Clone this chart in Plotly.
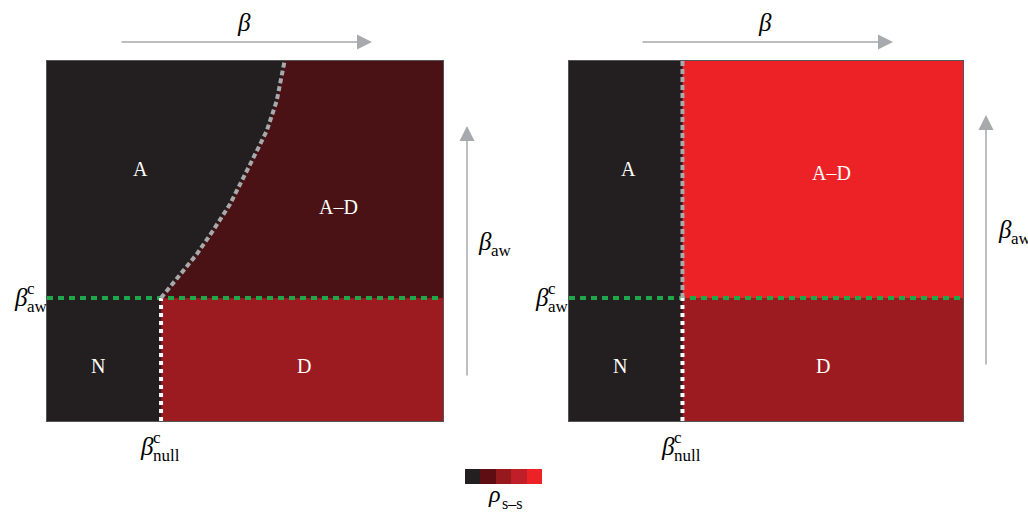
import plotly.graph_objects as go

W, H = 1028, 512

# ---- data ----
beta_null_c = 0.288
beta_aw_c = 0.342
boundary_beta = [0.288, 0.330, 0.378, 0.420, 0.462, 0.513, 0.555, 0.580, 0.597, 0.600]
boundary_beta_aw = [0.342, 0.400, 0.463, 0.530, 0.602, 0.713, 0.806, 0.889, 0.986, 1.0]

left_colors = {"A": "#231F20", "N": "#231F20", "A–D": "#4A1214", "D": "#9B1B20"}
right_colors = {"A": "#231F20", "N": "#231F20", "A–D": "#EC2227", "D": "#9B1B20"}
legend_colors = ["#231F20", "#5E0D12", "#96191E", "#C01F2A", "#EC2227"]

left_labels = [("A", 0.235, 0.70), ("A–D", 0.735, 0.595), ("N", 0.128, 0.153), ("D", 0.650, 0.153)]
right_labels = [("A", 0.150, 0.70), ("A–D", 0.665, 0.690), ("N", 0.130, 0.153), ("D", 0.645, 0.153)]

SERIF = "Liberation Serif, Times New Roman, DejaVu Serif, serif"
GRAY = "#A7A9AC"
GREEN = "#1FA84A"

def px(x):
    return x / W

def py(y):
    return 1 - y / H

fig = go.Figure()

dom_left_x = [px(47), px(443)]
dom_right_x = [px(569), px(963)]
dom_y = [py(421), py(61)]

def rect(x0, x1, y0, y1):
    return [x0, x1, x1, x0, x0], [y0, y0, y1, y1, y0]

def fill(xs, ys, color, xa, ya):
    fig.add_trace(go.Scatter(x=xs, y=ys, mode="lines", fill="toself", fillcolor=color,
                             line=dict(width=0, color=color), xaxis=xa, yaxis=ya,
                             hoverinfo="skip", showlegend=False))

def line(xs, ys, color, dash, width, xa, ya):
    fig.add_trace(go.Scatter(x=xs, y=ys, mode="lines", line=dict(color=color, dash=dash, width=width),
                             xaxis=xa, yaxis=ya, hoverinfo="skip", showlegend=False))

GREEN_DASH = "6px,5px"
WHITE_DASH = "4px,4px"
GRAY_DASH = "5px,3px"

# Left panel
xs, ys = rect(0, 1, 0, 1)
fill(xs, ys, left_colors["A"], "x", "y")
fill(boundary_beta + [1, 1, beta_null_c], boundary_beta_aw + [1, beta_aw_c, beta_aw_c],
     left_colors["A–D"], "x", "y")
xs, ys = rect(beta_null_c, 1, 0, beta_aw_c)
fill(xs, ys, left_colors["D"], "x", "y")
line([0, 1], [beta_aw_c, beta_aw_c], GREEN, GREEN_DASH, 4, "x", "y")
line([beta_null_c, beta_null_c], [0, beta_aw_c], "white", WHITE_DASH, 4, "x", "y")
line(boundary_beta, boundary_beta_aw, GRAY, GRAY_DASH, 4, "x", "y")

# Right panel
xs, ys = rect(0, 1, 0, 1)
fill(xs, ys, right_colors["A"], "x2", "y2")
xs, ys = rect(beta_null_c, 1, beta_aw_c, 1)
fill(xs, ys, right_colors["A–D"], "x2", "y2")
xs, ys = rect(beta_null_c, 1, 0, beta_aw_c)
fill(xs, ys, right_colors["D"], "x2", "y2")
line([0, 1], [beta_aw_c, beta_aw_c], GREEN, GREEN_DASH, 4, "x2", "y2")
line([beta_null_c, beta_null_c], [0, beta_aw_c], "white", WHITE_DASH, 4, "x2", "y2")
line([beta_null_c, beta_null_c], [beta_aw_c, 1], GRAY, GRAY_DASH, 4, "x2", "y2")

# Legend color strip
fig.add_trace(go.Heatmap(z=[list(range(len(legend_colors)))], xaxis="x3", yaxis="y3",
                         colorscale=[[i / (len(legend_colors) - 1), c] for i, c in enumerate(legend_colors)],
                         showscale=False, hoverinfo="skip", xgap=0, ygap=0))

ax_common = dict(showgrid=False, zeroline=False, showticklabels=False, ticks="",
                 showline=True, mirror=True, linecolor="#555555", linewidth=1)
fig.update_layout(
    width=W, height=H, margin=dict(l=0, r=0, t=0, b=0), autosize=False,
    paper_bgcolor="white", plot_bgcolor="white",
    xaxis=dict(domain=dom_left_x, range=[0, 1], **ax_common),
    yaxis=dict(domain=dom_y, range=[0, 1], **ax_common),
    xaxis2=dict(domain=dom_right_x, range=[0, 1], anchor="y2", **ax_common),
    yaxis2=dict(domain=dom_y, range=[0, 1], anchor="x2", **ax_common),
    xaxis3=dict(domain=[px(465), px(542)], range=[-0.5, 4.5], anchor="y3", visible=False),
    yaxis3=dict(domain=[py(484), py(469)], range=[-0.5, 0.5], anchor="x3", visible=False),
    showlegend=False,
)

ann = []
def text(t, x, y, size, color="black", xanchor="center", yanchor="middle"):
    ann.append(dict(text=t, x=px(x), y=py(y), xref="paper", yref="paper", showarrow=False,
                    font=dict(family=SERIF, size=size, color=color), xanchor=xanchor, yanchor=yanchor))

def arrow(x0, y0, x1, y1):
    ann.append(dict(text="", x=px(x1), y=py(y1), xref="paper", yref="paper",
                    ax=x0 - x1, ay=y0 - y1, axref="pixel", ayref="pixel", showarrow=True,
                    arrowhead=2, arrowsize=2, arrowwidth=1.5, arrowcolor=GRAY))

# region labels
for t, x, y in left_labels:
    ann.append(dict(text=t, x=x, y=y, xref="x", yref="y", showarrow=False,
                    font=dict(family=SERIF, size=20, color="white")))
for t, x, y in right_labels:
    ann.append(dict(text=t, x=x, y=y, xref="x2", yref="y2", showarrow=False,
                    font=dict(family=SERIF, size=20, color="white")))

def beta_sym(x, y, sup=None, sub=None):
    text("<i>β</i>", x, y, 25)
    if sup:
        text(sup, x + 4, y - 9, 17, xanchor="left")
    if sub:
        text(sub, x + 4, y + 9, 17, xanchor="left")

for off in [0, 521]:
    # top beta arrow
    arrow(120 + off, 42, 372 + off, 42)
    beta_sym(244 + off, 22)
    # beta_null^c
    beta_sym(147 + off, 446, "c", "null")
    # beta_aw^c
    beta_sym(21 + off, 297, "c", "aw")

arrow(467, 377, 467, 126)
beta_sym(485, 241, None, "aw")
arrow(986, 366, 986, 115)
beta_sym(1005, 229, None, "aw")

# legend label
text("<i>ρ</i>", 494, 494, 24)
text("s–s", 500, 503, 16, xanchor="left")

fig.update_layout(annotations=ann)
fig.write_html("out.html", config={"displayModeBar": False},
               post_script="document.body.style.margin='0px';document.body.style.overflow='hidden';")
